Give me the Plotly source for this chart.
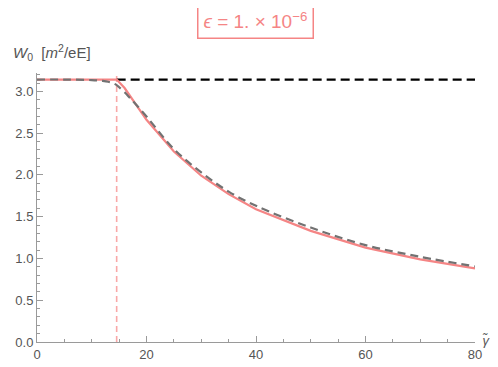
import plotly.graph_objects as go

# values
gamma_crit = 14.55

red_x = [0, 5, 10, 14.55, 16, 18, 20, 25, 30, 35, 40, 50, 60, 70, 80]
red_y = [3.1416, 3.1416, 3.1416, 3.1416, 3.04, 2.85, 2.66, 2.28, 1.99, 1.77, 1.59, 1.33, 1.13, 0.99, 0.88]

grey_x = [0, 5, 10, 12, 13, 14, 14.55, 15, 16, 17, 18, 20, 25, 30, 35, 40, 50, 60, 70, 80]
grey_y = [3.1416, 3.1416, 3.135, 3.125, 3.115, 3.095, 3.075, 3.05, 2.99, 2.92, 2.85, 2.70, 2.31, 2.03, 1.80, 1.63, 1.37, 1.16, 1.02, 0.905]

black_x = [14.55, 80]
black_y = [3.1416, 3.1416]

x_ticks = [0, 20, 40, 60, 80]
y_ticks = [0, 0.5, 1.0, 1.5, 2.0, 2.5, 3.0]
y_ticktext = ["0.0", "0.5", "1.0", "1.5", "2.0", "2.5", "3.0"]

pink = "#F58585"
axis_grey = "#9A9A9A"
txt_grey = "#555555"
font = "Liberation Sans"

fig = go.Figure()
fig.add_trace(go.Scatter(x=[gamma_crit, gamma_crit], y=[0, 3.22], mode="lines",
                         line=dict(color="#F9A8A8", width=1.6, dash="6px,4px")))
fig.add_trace(go.Scatter(x=black_x, y=black_y, mode="lines",
                         line=dict(color="black", width=2.2, dash="9px,5px")))
fig.add_trace(go.Scatter(x=red_x, y=red_y, mode="lines",
                         line=dict(color=pink, width=2.2)))
fig.add_trace(go.Scatter(x=grey_x, y=grey_y, mode="lines", line_shape="spline",
                         line=dict(color="#727272", width=2.2, dash="8px,5px")))

fig.update_xaxes(range=[0, 80], tickvals=x_ticks, automargin=False,
                 minor=dict(tickvals=list(range(5, 80, 5)), ticks="inside", ticklen=3, tickcolor=axis_grey),
                 ticks="inside", ticklen=6, tickcolor=axis_grey,
                 showline=True, linecolor=axis_grey, linewidth=1,
                 showgrid=False, zeroline=False,
                 tickfont=dict(family=font, size=13, color=txt_grey))
fig.update_yaxes(range=[0, 3.22], tickvals=y_ticks, ticktext=y_ticktext, automargin=False,
                 minor=dict(tickvals=[round(v * 0.1, 1) for v in range(1, 33) if v % 5], ticks="inside",
                            ticklen=3, tickcolor=axis_grey),
                 ticks="inside", ticklen=6, tickcolor=axis_grey,
                 showline=True, linecolor=axis_grey, linewidth=1,
                 showgrid=False, zeroline=False,
                 tickfont=dict(family=font, size=13, color=txt_grey))

fig.add_annotation(text="<i>ϵ</i> = 1. × 10<sup>−6</sup>", xref="paper", yref="paper",
                   x=0.498, y=1.0, yshift=53, xanchor="center", yanchor="middle", showarrow=False,
                   font=dict(family=font, size=19, color=pink),
                   bordercolor=pink, borderwidth=1.5, borderpad=5, bgcolor="white")
fig.add_annotation(text="<i>W</i><sub>0</sub>  [<i>m</i><sup>2</sup>/eE]", xref="paper", yref="paper",
                   x=0, y=1.0, xshift=-26, yshift=21, xanchor="left", yanchor="middle", showarrow=False,
                   font=dict(family=font, size=15, color=txt_grey))
fig.add_annotation(text="<i>γ\u0303</i>", xref="paper", yref="paper",
                   x=1.0, y=0, xshift=5, yshift=2, xanchor="left", yanchor="middle", showarrow=False,
                   font=dict(family=font, size=13, color=txt_grey))

fig.update_layout(width=490, height=359, showlegend=False,
                  margin=dict(l=29, r=23, t=65, b=25),
                  plot_bgcolor="white", paper_bgcolor="white")
fig.write_html("out.html")
